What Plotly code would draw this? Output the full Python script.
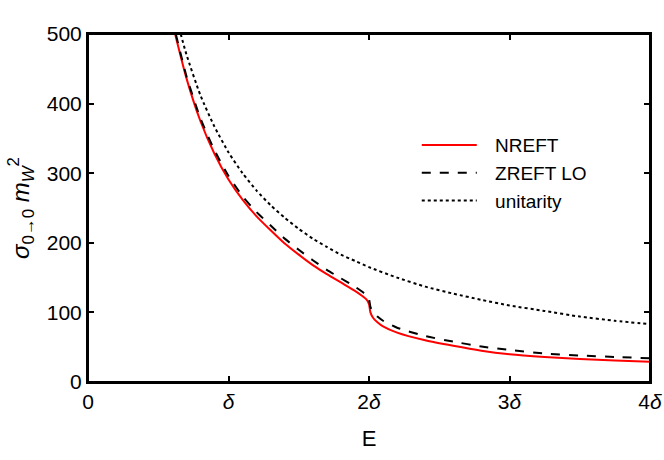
import plotly.graph_objects as go

# Energia en unidades de delta
e_nreft = [0.62, 0.70, 0.80, 0.90, 1.00, 1.10, 1.20, 1.30, 1.40, 1.50, 1.60, 1.70,
           1.80, 1.90, 1.95, 1.98, 2.00, 2.01, 2.03, 2.06, 2.10, 2.20, 2.40, 2.60,
           2.80, 3.00, 3.25, 3.50, 3.75, 4.00]
sigma_nreft = [500, 437, 375, 328, 291, 262, 238, 218, 199, 183, 168, 155,
               143, 131, 124, 119, 112, 100, 92, 86, 80, 71, 60, 52,
               45, 40, 36, 33, 31, 29]

e_zreft = [0.625, 0.70, 0.80, 0.90, 1.00, 1.10, 1.20, 1.30, 1.40, 1.50, 1.60, 1.70,
           1.80, 1.90, 1.95, 1.98, 2.00, 2.01, 2.03, 2.06, 2.10, 2.20, 2.40, 2.60,
           2.80, 3.00, 3.25, 3.50, 3.75, 4.00]
sigma_zreft = [500, 440, 379, 333, 296, 267, 244, 225, 206, 190, 175, 161,
               149, 137, 130, 125, 119, 108, 100, 94, 88, 78, 66, 58,
               51, 46, 41, 38, 36, 34]

e_unit = [0.66, 0.70, 0.80, 0.90, 1.00, 1.10, 1.20, 1.30, 1.40, 1.50, 1.60, 1.70,
          1.80, 1.90, 2.00, 2.20, 2.40, 2.60, 2.80, 3.00, 3.25, 3.50, 3.75, 4.00]
sigma_unit = [500, 471, 412, 367, 330, 300, 275, 254, 236, 220, 206, 194,
              183, 174, 165, 150, 137, 127, 118, 110, 102, 94, 88, 83]

x_ticks = [0, 1, 2, 3, 4]
x_labels = ['0', '<i>δ</i>', '2<i>δ</i>', '3<i>δ</i>', '4<i>δ</i>']
y_ticks = [0, 100, 200, 300, 400, 500]

fig = go.Figure()

fig.add_trace(go.Scatter(
    x=e_nreft, y=sigma_nreft, mode='lines',
    line=dict(color='#ff0000', width=2, shape='spline', smoothing=0.6),
    name='\u2002\u2009NREFT'
))

fig.add_trace(go.Scatter(
    x=e_zreft, y=sigma_zreft, mode='lines',
    line=dict(color='black', width=2, dash='dash', shape='spline', smoothing=0.6),
    name='\u2002\u2009ZREFT LO'
))

fig.add_trace(go.Scatter(
    x=e_unit, y=sigma_unit, mode='lines',
    line=dict(color='black', width=2, dash='dot', shape='spline', smoothing=0.6),
    name='\u2002\u2009unitarity'
))

eje = dict(
    showline=True, linecolor='black', linewidth=2, mirror='allticks',
    ticks='inside', ticklen=6, tickwidth=1.5, tickcolor='black',
    showgrid=False, zeroline=False,
    tickfont=dict(size=21, color='black'),
)

fig.update_layout(
    width=664, height=460,
    margin=dict(l=88, r=12, t=34, b=78),
    paper_bgcolor='white', plot_bgcolor='white',
    font=dict(family='Liberation Sans, Arial, sans-serif', color='black'),
    xaxis=dict(
        range=[0, 4], tickvals=x_ticks, ticktext=x_labels,
        title=dict(text='E', font=dict(size=22), standoff=18),
        automargin=False, ticklabeloverflow='allow',
        **eje
    ),
    yaxis=dict(
        range=[0, 500], tickvals=y_ticks,
        title=dict(text='<i>σ</i><sub>0→0</sub> <i>m</i><sub><i>W</i></sub><sup>2</sup>',
                   font=dict(size=24), standoff=10),
        automargin=True,
        **eje
    ),
    legend=dict(
        x=0.585, y=0.735, xanchor='left', yanchor='top',
        font=dict(size=19), bgcolor='rgba(0,0,0,0)',
        itemwidth=55, tracegroupgap=0
    ),
    showlegend=True
)

# marco completo del grafico
fig.add_shape(type='rect', xref='paper', yref='paper', x0=0, y0=0, x1=1, y1=1,
              line=dict(color='black', width=2), layer='above')

# quitar el margen del body para que no salgan barras de scroll
fig.write_html("out.html", config={'displayModeBar': False},
               post_script="document.body.style.margin='0';"
               "document.documentElement.style.overflow='hidden';")
